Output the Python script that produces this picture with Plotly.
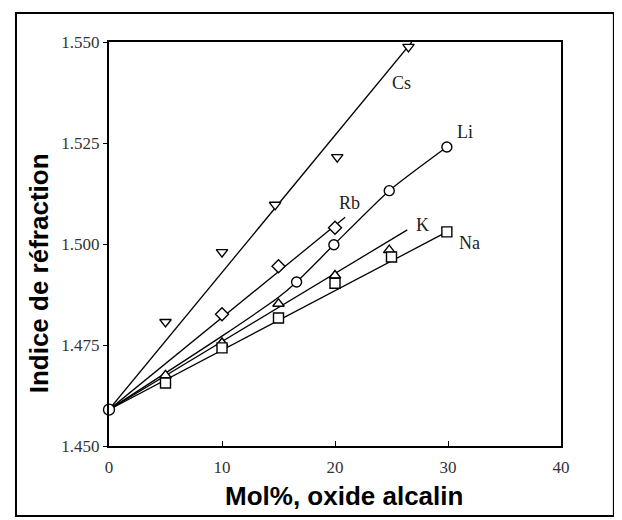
import plotly.graph_objects as go

# ---- data ----
cs_x = [0, 5, 10, 14.7, 20.2, 26.5]
cs_y = [1.459, 1.4807, 1.498, 1.5097, 1.5215, 1.5488]
cs_line_x = [0, 26.8]
cs_line_y = [1.459, 1.550]

rb_x = [10, 15, 20]
rb_y = [1.4826, 1.4945, 1.504]
rb_line_x = [0, 20.9]
rb_line_y = [1.459, 1.5066]

li_x = [0, 16.6, 19.9, 24.8, 29.9]
li_y = [1.459, 1.4906, 1.4998, 1.5132, 1.524]
li_line_x = [0, 10, 15, 16.6, 19.9, 24.8, 29.9]
li_line_y = [1.459, 1.4772, 1.4868, 1.4906, 1.4998, 1.5132, 1.524]

k_x = [5, 10, 15, 20, 24.8]
k_y = [1.4675, 1.4755, 1.4852, 1.4922, 1.4985]
k_line_x = [0, 26.4]
k_line_y = [1.459, 1.5035]

na_x = [5, 10, 15, 20, 25, 29.9]
na_y = [1.4656, 1.4743, 1.4817, 1.4903, 1.4968, 1.503]
na_line_x = [0, 29.9]
na_line_y = [1.459, 1.503]

origin_x = [0]
origin_y = [1.459]

labels = ["Cs", "Rb", "Li", "K", "Na"]
label_x = [25.9, 21.3, 31.5, 27.7, 31.9]
label_y = [1.5399, 1.5101, 1.5277, 1.5047, 1.5002]

x_ticks = [0, 10, 20, 30, 40]
y_ticks = [1.450, 1.475, 1.500, 1.525, 1.550]
y_tick_text = ["1.450", "1.475", "1.500", "1.525", "1.550"]

x_title = "Mol%, oxide alcalin"
y_title = "Indice de réfraction"

fig = go.Figure()

for lx, ly in [(cs_line_x, cs_line_y), (rb_line_x, rb_line_y), (li_line_x, li_line_y),
               (k_line_x, k_line_y), (na_line_x, na_line_y)]:
    fig.add_trace(go.Scatter(x=lx, y=ly, mode="lines",
                             line=dict(color="black", width=1.3, shape="spline",
                                       smoothing=0.6),
                             showlegend=False, hoverinfo="skip"))

def marker_trace(x, y, symbol, size=10):
    return go.Scatter(x=x, y=y, mode="markers", showlegend=False, cliponaxis=False,
                      marker=dict(symbol=symbol, size=size, color="white",
                                  line=dict(color="black", width=1.4)))

fig.add_trace(marker_trace(cs_x[1:], cs_y[1:], "triangle-down"))
fig.add_trace(marker_trace(rb_x, rb_y, "diamond"))
fig.add_trace(marker_trace(li_x[1:], li_y[1:], "circle"))
fig.add_trace(marker_trace(k_x, k_y, "triangle-up"))
fig.add_trace(marker_trace(na_x, na_y, "square"))
fig.add_trace(marker_trace(origin_x, origin_y, "circle", size=11))

for t, x, y in zip(labels, label_x, label_y):
    fig.add_annotation(x=x, y=y, text=t, showarrow=False,
                       font=dict(family="Liberation Serif, Times New Roman, serif",
                                 size=18, color="#222"))

fig.add_annotation(xref="paper", yref="paper", x=0.52, y=-0.166, text=x_title,
                   showarrow=False,
                   font=dict(family="Liberation Sans, Arial, sans-serif", size=26,
                             color="black", weight="bold"))
fig.add_annotation(xref="paper", yref="paper", x=-0.192, y=0.428, text=y_title,
                   textangle=-90, showarrow=False,
                   font=dict(family="Liberation Sans, Arial, sans-serif", size=26,
                             color="black", weight="bold"))

# outer frame
fig.add_shape(type="rect", xref="paper", yref="paper",
              x0=-0.2058, x1=1.117, y0=-0.173, y1=1.072,
              line=dict(color="black", width=2))

tick_font = dict(family="Liberation Serif, Times New Roman, serif", size=17, color="#333")

fig.update_xaxes(range=[0, 40], tickvals=x_ticks, showline=True, mirror=True,
                 linecolor="black", linewidth=2, ticks="inside", ticklen=5,
                 tickcolor="black", showgrid=False, zeroline=False,
                 ticklabelstandoff=5, tickfont=tick_font)
fig.update_yaxes(range=[1.450, 1.550], tickvals=y_ticks, ticktext=y_tick_text,
                 showline=True, mirror=True, linecolor="black", linewidth=2,
                 ticks="outside", ticklen=4, tickcolor="black", ticklabelstandoff=0,
                 showgrid=False, zeroline=False, tickfont=tick_font)

fig.update_layout(width=614, height=512, margin=dict(l=101, r=61, t=34, b=74),
                  plot_bgcolor="white", paper_bgcolor="white")

fig.write_html("out.html")
